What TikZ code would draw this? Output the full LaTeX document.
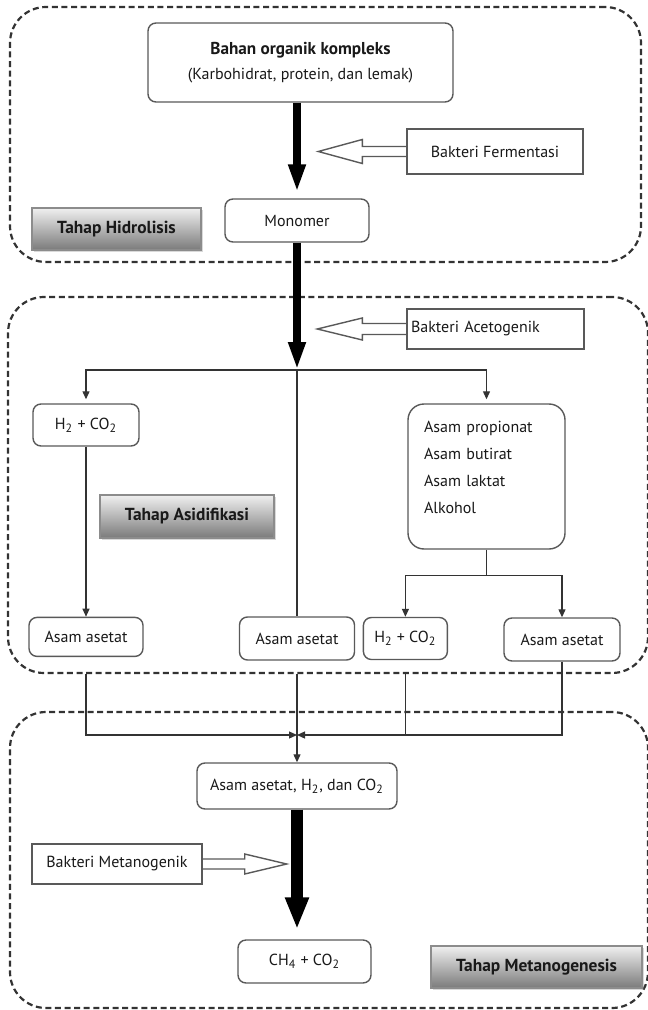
\documentclass[tikz,border=0pt]{standalone}
\usepackage{fontspec}
\setmainfont{PT Sans}
\usetikzlibrary{arrows.meta,positioning,shadows}

\tikzset{
  zone/.style={draw=black!80, line width=1.1pt, dash pattern=on 3pt off 1.8pt,
    rounded corners=18pt, inner sep=0pt},
  box/.style={draw=black!65, line width=0.7pt, rounded corners=4pt, fill=white,
    text=black!90, inner sep=2pt, align=center, font=\fontsize{8}{10}\selectfont},
  bakteri/.style={box, rounded corners=0pt},
  tahap/.style={draw=black!45, line width=0.6pt, top color=black!6, bottom color=black!52,
    text=black!90, font=\fontsize{8.7}{10}\selectfont\bfseries,
    drop shadow={opacity=0.3, shadow xshift=0.8pt, shadow yshift=-0.8pt}},
  link/.style={draw=black!80, line width=0.6pt},
  thickarrow/.style={line width=4pt, -{Triangle[length=14pt,width=8pt]}},
  hollow/.style={draw=black!65, line width=0.7pt, line join=miter}
}

\begin{document}
\begin{tikzpicture}[x=0.5pt, y=-0.5pt, >={Triangle[length=4pt,width=3.5pt]}]
  \useasboundingbox (0,0) rectangle (647,1010);

  % tahap
  \node[zone, minimum width=315.5pt, minimum height=127.5pt] (zoneH) at (325.5,134.5) {};
  \node[zone, minimum width=320pt, minimum height=188pt]     (zoneA) at (328,485)     {};
  \node[zone, minimum width=319pt, minimum height=148pt]     (zoneM) at (329,860)     {};

  % hidrolisis
  \node[box, minimum width=152.5pt, minimum height=39.5pt, font=\fontsize{8}{12.5}\selectfont]
    (bahan) at (300.5,62.5) {{\fontsize{8.6}{12.5}\selectfont\bfseries Bahan organik kompleks}\\(Karbohidrat, protein, dan lemak)};
  \node[box, minimum width=72pt, minimum height=21.5pt] (monomer) at (297,220.5) {Monomer};
  \node[bakteri, minimum width=88pt, minimum height=22.5pt] (fermentasi) at (495,151.5) {Bakteri Fermentasi};
  \node[tahap, minimum width=84.5pt, minimum height=21pt] (hidrolisis) at (116.5,229) {Tahap Hidrolisis};

  % asidifikasi
  \node[bakteri, text width=84.5pt, align=left, minimum height=20pt] (acetogenik) at (495.5,329) {Bakteri Acetogenik};
  \node[box, minimum width=53pt, minimum height=21pt] (h2a) at (86,425) {H\textsubscript{2} + CO\textsubscript{2}};
  \node[tahap, minimum width=87pt, minimum height=21.5pt] (asidifikasi) at (187,516.5) {Tahap Asidifikasi};
  \node[box, rounded corners=8pt, text width=62.5pt, inner xsep=8pt, align=left, minimum height=72.5pt,
    font=\fontsize{8}{13.5}\selectfont]
    (acids) at (486.5,476.5) {Asam propionat\\Asam butirat\\Asam laktat\\Alkohol\\[-4.5pt]\mbox{}};
  \node[box, minimum width=57pt, minimum height=19.5pt, below=85pt of h2a] (asetA) {Asam asetat};
  \node[box, minimum width=57.5pt, minimum height=21.5pt] (asetB) at (297,638.5) {Asam asetat};
  \node[box, minimum width=42pt, minimum height=21pt, right=3.75pt of asetB] (h2b) {H\textsubscript{2} + CO\textsubscript{2}};
  \node[box, minimum width=58pt, minimum height=21.5pt] (asetC) at (562,639.5) {Asam asetat};

  % metanogenesis
  \node[box, minimum width=100pt, minimum height=23pt] (mix) at (297,786)
    {Asam asetat, H\textsubscript{2}, dan CO\textsubscript{2}};
  \node[bakteri, minimum width=85pt, minimum height=20pt] (metanogenik) at (117,864) {Bakteri Metanogenik};
  \node[box, minimum width=66.5pt, minimum height=21.5pt] (ch4) at (304.5,961.5) {CH\textsubscript{4} + CO\textsubscript{2}};
  \node[tahap, minimum width=105.5pt, minimum height=21pt] (metanogenesis) at (536.5,967) {Tahap Metanogenesis};

  \coordinate (split) at (297,370);
  \coordinate (merge) at (297,735);

  % thick arrows
  \draw[thickarrow, shorten >=3pt] (monomer |- bahan.south) -- (monomer.north);
  \draw[thickarrow] (monomer.south) -- (split);
  \draw[line width=6pt, -{Triangle[length=16pt,width=11pt]}, shorten >=5pt]
    (mix.south) -- (mix.south |- ch4.north);

  % bakteri
  \draw[hollow] (fermentasi.west) ++(0,-5) -- ++(-44,0) -- ++(0,-7) -- ++(-44,12)
    -- ++(44,12) -- ++(0,-7) -- ++(44,0);
  \draw[hollow] (acetogenik.west) ++(0,-5.5) -- ++(-44,0) -- ++(0,-5.5) -- ++(-45,11)
    -- ++(45,11) -- ++(0,-5.5) -- ++(44,0);
  \draw[hollow] (metanogenik.east) ++(0,-5) -- ++(42,0) -- ++(0,-5) -- ++(42,10)
    -- ++(-42,10) -- ++(0,-5) -- ++(-42,0);

  % cabang
  \draw[link, ->, shorten >=2pt] (split) -| (h2a.north);
  \draw[link, ->, shorten >=2pt] (split) -| (acids.north);
  \draw[link] (split) -- (asetB.north);
  \draw[link, ->] (h2a.south) -- (asetA.north);
  \draw[link] (acids.south) -- ++(0,26) coordinate (split2);
  \draw[link, ->] (split2) -| (h2b.north);
  \draw[link, ->] (split2) -| (asetC.north);

  % gabung
  \draw[link, ->] (asetA |- zoneA.south) |- (merge);
  \draw[link] (h2b |- zoneA.south) -- (h2b |- merge);
  \draw[link, ->] (asetC.south) |- (merge);
  \draw[link, ->] (asetB |- zoneA.south) -- (mix.north);
\end{tikzpicture}
\end{document}
